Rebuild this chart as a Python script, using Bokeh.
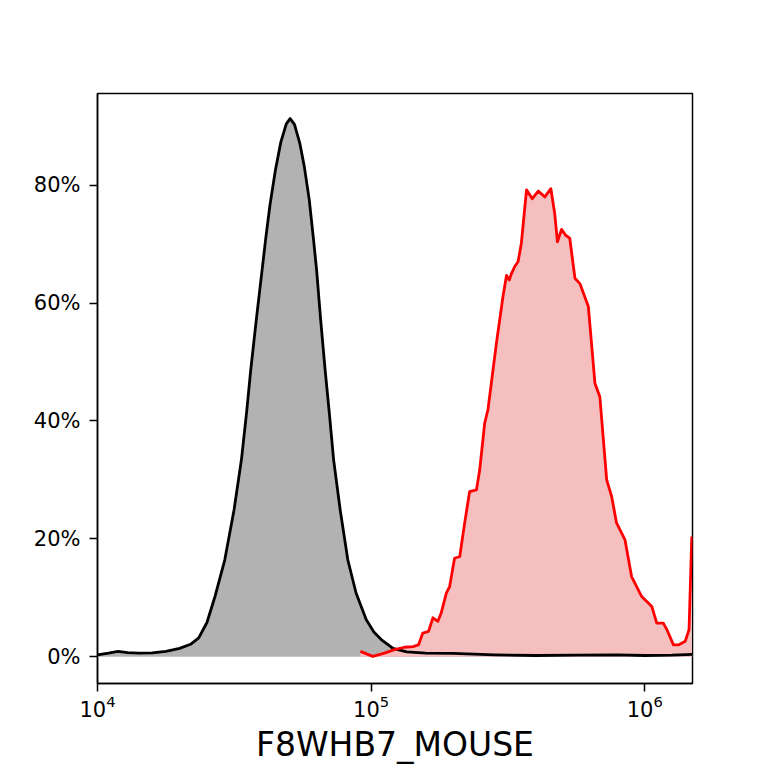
from bokeh.plotting import figure
from bokeh.models import FixedTicker, PrintfTickFormatter, Range1d
from bokeh.embed import file_html
from bokeh.resources import INLINE

# --- data: control (black/grey) histogram ---
ctrl_x = [10000, 10965, 11885, 12882, 14125, 15849, 17783, 19953, 21878, 23442,
          25119, 26915, 29174, 31550, 33574, 35075, 36308, 38019, 39811, 41210,
          42658, 44668, 46774, 48978, 50582, 52481, 54954, 57016, 59429, 61518,
          63241, 65313, 67920, 70469, 72946, 77090, 82224, 88105, 95940, 102329,
          108893, 120226, 134896, 158489, 199526, 281838, 398107, 562341, 794328,
          1000000, 1258925, 1496236]
ctrl_y = [0.3, 0.6, 0.9, 0.7, 0.6, 0.65, 0.9, 1.4, 2.1, 3.2,
          5.8, 10.3, 16.4, 24.9, 33.4, 41.5, 48.6, 57.0, 65.0, 71.0,
          76.5, 82.5, 87.3, 90.4, 91.3, 90.3, 87.0, 83.1, 77.5, 71.0,
          65.5, 57.5, 48.6, 41.0, 33.4, 24.9, 16.4, 10.8, 6.3, 4.2,
          2.9, 1.4, 0.8, 0.6, 0.55, 0.3, 0.2, 0.25, 0.3,
          0.2, 0.25, 0.4]

# --- data: sample (red) histogram ---
samp_x = [91411, 101391, 111944, 121619, 132434, 142233, 148936, 154525, 162181,
          168267, 175388, 180302, 188365, 193642, 201837, 210863, 219786, 229087,
          242661, 249459, 260016, 267301, 287078, 303389, 312608, 319890, 325837,
          334965, 344350, 353997, 369828, 388150, 408319, 431519, 453942, 468813,
          479733, 496592, 514044, 532108, 555904, 579429, 622300, 657658, 685488,
          726106, 756833, 788860, 847227, 895365, 974990, 1061696, 1106623,
          1169499, 1205036, 1273503, 1327394, 1406048, 1452112, 1485936]
samp_y = [0.9, 0.05, 0.6, 1.2, 1.6, 1.7, 2.0, 4.0, 4.3,
          6.6, 6.0, 7.4, 10.8, 11.9, 16.7, 17.0, 22.7, 28.0,
          28.3, 31.7, 39.6, 41.9, 53.2, 61.1, 64.7, 63.9, 65.0,
          66.2, 67.0, 70.1, 79.2, 77.7, 79.0, 78.0, 79.4, 75.2,
          70.4, 72.5, 71.5, 71.0, 64.2, 63.3, 59.4, 46.4, 44.1,
          30.0, 27.2, 22.7, 19.8, 13.6, 10.2, 8.5, 5.7,
          5.7, 4.6, 2.0, 2.0, 2.6, 4.6, 20.4]

x_ticks = [10000, 100000, 1000000]
y_ticks = [0, 20, 40, 60, 80]
x_label = "F8WHB7_MOUSE"

FONT = "DejaVu Sans"

p = figure(width=768, height=768, x_axis_type="log",
           x_range=Range1d(10000, 1495000), y_range=Range1d(-4.55, 95.55),
           output_backend="svg", toolbar_location=None,
           min_border_left=97, min_border_right=76,
           min_border_top=93, min_border_bottom=85)

p.background_fill_color = "white"
p.border_fill_color = "white"
p.outline_line_color = "black"
p.outline_line_width = 1.5
p.xgrid.visible = False
p.ygrid.visible = False

p.varea(x=ctrl_x, y1=[0] * len(ctrl_x), y2=ctrl_y, fill_color="#b2b2b2")
p.varea(x=samp_x, y1=[0] * len(samp_x), y2=samp_y, fill_color="#f5bfc0")
p.line(ctrl_x, ctrl_y, line_color="black", line_width=2.8, line_join="round")
p.line(samp_x, samp_y, line_color="#ff0000", line_width=2.8, line_join="round")

for ax in (p.xaxis[0], p.yaxis[0]):
    ax.axis_line_color = "black"
    ax.axis_line_width = 1.5
    ax.major_tick_line_color = "black"
    ax.major_tick_line_width = 1.5
    ax.major_tick_out = 8
    ax.major_tick_in = 0
    ax.minor_tick_line_color = None
    ax.major_label_text_font = FONT
    ax.major_label_text_font_size = "21px"
    ax.major_label_text_color = "black"

p.xaxis.ticker = FixedTicker(ticks=x_ticks)
p.xaxis.major_label_standoff = 3
p.xaxis.axis_label = x_label
p.xaxis.axis_label_text_font = FONT
p.xaxis.axis_label_text_font_size = "33px"
p.xaxis.axis_label_text_font_style = "normal"
p.xaxis.axis_label_text_color = "black"
p.xaxis.axis_label_standoff = 5

p.yaxis.ticker = FixedTicker(ticks=y_ticks)
p.yaxis.formatter = PrintfTickFormatter(format="%d%%")
p.yaxis.major_label_standoff = 9

open("out.html", "w").write(file_html(p, INLINE))
